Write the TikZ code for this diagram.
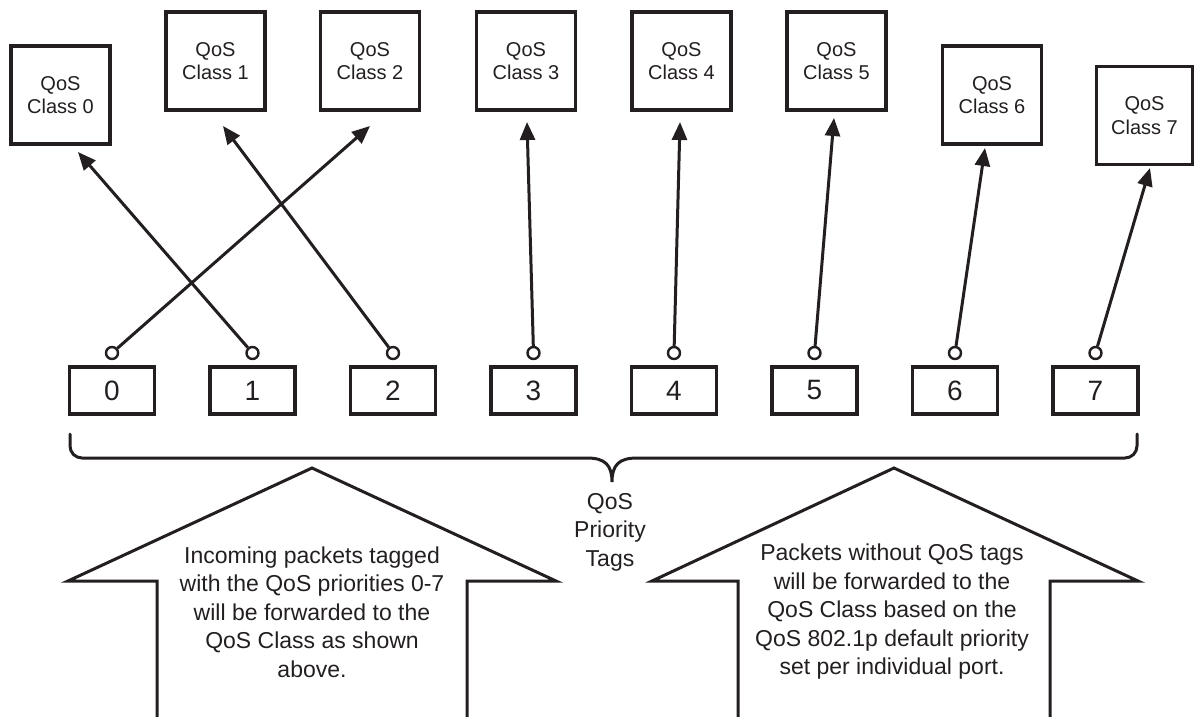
\documentclass[tikz,border=0pt]{standalone}
\usepackage{fontspec}
\setmainfont{Liberation Sans}
\usetikzlibrary{arrows.meta}
\definecolor{ink}{HTML}{231F20}
\tikzset{
  classbox/.style={draw=ink, line width=3.2pt, minimum width=99pt, minimum height=98pt, inner sep=0pt, align=center, text=ink, font=\fontsize{20}{23.5}\selectfont},
  tagbox/.style={draw=ink, line width=3.2pt, minimum width=85pt, minimum height=47pt, inner sep=0pt, text=ink, font=\fontsize{28}{30}\selectfont},
  pin/.style={draw=ink, circle, line width=2.4pt, minimum size=12pt, inner sep=0pt},
  conn/.style={draw=ink, line width=3pt, -{Triangle[length=18pt,width=15pt]}},
  shapeline/.style={draw=ink, line width=3pt, line join=miter},
  note/.style={align=center, text=ink, font=\fontsize{23}{28.5}\selectfont}
}
\begin{document}
\begin{tikzpicture}[x=1pt,y=-1pt]
\useasboundingbox (0,0) rectangle (1194,717);
% class boxes
\node[classbox] (c0) at (60.5,95) {QoS\\Class 0};
\node[classbox] (c1) at (215.5,61) {QoS\\Class 1};
\node[classbox] (c2) at (370,61) {QoS\\Class 2};
\node[classbox] (c3) at (526,61) {QoS\\Class 3};
\node[classbox] (c4) at (681.5,61) {QoS\\Class 4};
\node[classbox] (c5) at (836.5,61) {QoS\\Class 5};
\node[classbox] (c6) at (992,95) {QoS\\Class 6};
\node[classbox, minimum width=96pt] (c7) at (1144.5,115.5) {QoS\\Class 7};
% tag boxes and pins
\foreach \i/\x in {0/112,1/252.5,2/393,3/533.5,4/674,5/814.5,6/955,7/1095.5}{
  \node[tagbox] (t\i) at (\x,390.5) {\i};
  \node[pin] (o\i) at (\x,353) {};
}
% arrow tips
\coordinate (a0) at (78,152);
\coordinate (a1) at (223,126);
\coordinate (a2) at (370,126);
\coordinate (a3) at (527,122);
\coordinate (a4) at (680,122);
\coordinate (a5) at (834,118);
\coordinate (a6) at (985,148);
\coordinate (a7) at (1150,168);
\draw[conn] (o0) -- (a2);
\draw[conn] (o1) -- (a0);
\draw[conn] (o2) -- (a1);
\draw[conn] (o3) -- (a3);
\draw[conn] (o4) -- (a4);
\draw[conn] (o5) -- (a5);
\draw[conn] (o6) -- (a6);
\draw[conn] (o7) -- (a7);
% brace
\draw[shapeline, line cap=round] (70,434) -- (70,446) arc[start angle=180, end angle=90, x radius=12pt, y radius=-12pt] -- (587,458)
  .. controls (605,458) and (612,465) .. (612,482)
  .. controls (612,465) and (619,458) .. (637,458) -- (1125,458)
  arc[start angle=90, end angle=0, x radius=12pt, y radius=-12pt] -- (1137,434);
\node[note] (pt) at (610,532) {QoS\\Priority\\Tags};
% big arrows
\draw[shapeline] (157,720) -- (157,581) -- (68,581) -- (312,468) -- (556,581) -- (467,581) -- (467,720);
\draw[shapeline] (738,720) -- (738,581) -- (652,581) -- (894,468) -- (1138,581) -- (1050,581) -- (1050,720);
\node[note] (n1) at (312,612) {Incoming packets tagged\\with the QoS priorities 0-7\\will be forwarded to the\\QoS Class as shown\\above.};
\node[note] (n2) at (892,612) {Packets without QoS tags\\will be forwarded to the\\QoS Class based on the\\QoS 802.1p default priority\\set per individual port.};
\end{tikzpicture}
\end{document}
